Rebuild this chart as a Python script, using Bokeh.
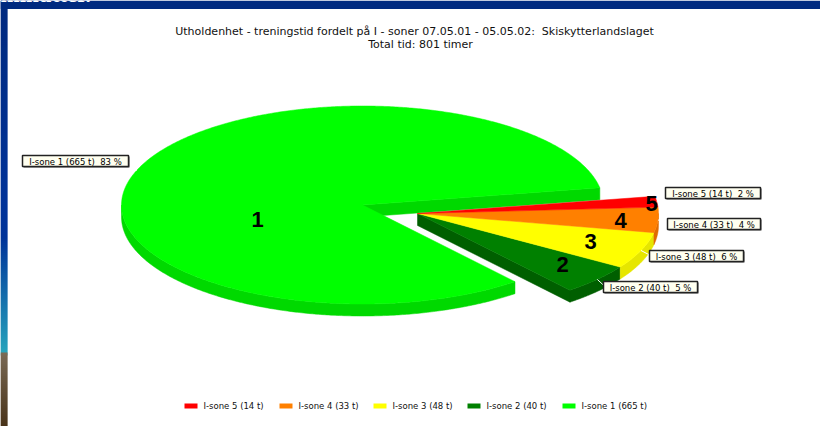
import numpy as np
from bokeh.plotting import figure
from bokeh.models import Range1d
from bokeh.core.properties import value
from bokeh.embed import file_html
from bokeh.resources import INLINE

# Training hours per intensity zone, in draw order around the pie
zones = ["I-sone 1", "I-sone 2", "I-sone 3", "I-sone 4", "I-sone 5"]
hours = [665, 40, 48, 33, 14]
percent = [83, 5, 6, 4, 2]
numbers = ["1", "2", "3", "4", "5"]
title_lines = ["Utholdenhet - treningstid fordelt på I - soner 07.05.01 - 05.05.02:\u00a0\u00a0Skiskytterlandslaget",
               "Total tid: 801 timer"]

top_colors = ["#00ff00", "#008000", "#ffff00", "#ff8000", "#ff0000"]
side_colors = ["#00d900", "#005f00", "#e6e600", "#e06c00", "#e00000"]

# Pie layout in page pixels
RX, RY, DEPTH = 241, 99, 12
CENTER = (362, 204.5)
EXPLODED = (417, 213)
START = 10

p = figure(width=820, height=426, output_backend="svg", toolbar_location=None,
           x_range=Range1d(0, 820), y_range=Range1d(426, 0),
           x_axis_type=None, y_axis_type=None, min_border=0,
           background_fill_color="white", border_fill_color="white")
p.grid.visible = False
p.outline_line_color = None


def rim(center, angles, drop=0):
    a = np.radians(angles)
    return center[0] + RX * np.cos(a), center[1] - RY * np.sin(a) + drop


def arc(a0, a1):
    return np.linspace(a0, a1, max(int(abs(a1 - a0) * 2), 2))


def wall(center, a0, a1, color):
    xs, ys = rim(center, arc(a0, a1))
    xb, yb = rim(center, arc(a1, a0), DEPTH)
    p.patch(np.r_[xs, xb], np.r_[ys, yb], fill_color=color, line_color=color, line_width=0.5)


def edge(center, angle, color):
    x, y = rim(center, np.array([angle]))
    p.patch([center[0], x[0], x[0], center[0]],
            [center[1], y[0], y[0] + DEPTH, center[1] + DEPTH],
            fill_color=color, line_color=color, line_width=0.5)


def face(center, a0, a1, color):
    xs, ys = rim(center, arc(a0, a1))
    p.patch(np.r_[center[0], xs], np.r_[center[1], ys], fill_color=color, line_color=color, line_width=0.5)


# Slide background behind the chart: dark top strip and left gradient band
band_stops = [(0, (0, 42, 127)), (200, (0, 51, 153)), (235, (0, 51, 153)),
              (352, (40, 165, 189))]
rows = np.arange(0, 354, 2)
band_colors = ["#%02x%02x%02x" % tuple(
    int(np.interp(y, [s[0] for s in band_stops], [s[1][c] for s in band_stops])) for c in range(3))
    for y in rows]
p.quad(left=0, right=7, top=rows, bottom=rows + 3, fill_color=band_colors, line_color=None)
brown = np.arange(352, 426, 2)
brown_colors = ["#%02x%02x%02x" % (int(np.interp(y, [352, 426], [122, 72])),
                                   int(np.interp(y, [352, 426], [106, 50])),
                                   int(np.interp(y, [352, 426], [85, 24]))) for y in brown]
p.quad(left=0, right=7, top=brown, bottom=brown + 3, fill_color=brown_colors, line_color=None)
p.quad(left=0, right=820, top=0, bottom=8.5, fill_color="#002a80", line_color=None)
p.text(x=[0], y=[-6], text=["minutter."], text_color="white", text_font=value("Liberation Serif"),
       text_font_style="bold", text_font_size="23px", text_baseline="alphabetic")

# Slice angles follow the hour totals, running counter-clockwise
total = sum(hours)
sweep = [360 * h / total for h in hours]
a = START
bounds = []
for s in sweep:
    bounds.append((a, a + s))
    a += s

# The large slice stays in place
a0, a1 = bounds[0]
edge(CENTER, a0, side_colors[0])
wall(CENTER, 180, a1, side_colors[0])
face(CENTER, a0, a1, top_colors[0])

# The remaining slices are pulled out as one block
edge(EXPLODED, bounds[1][0], side_colors[1])
for i in range(1, 5):
    b0, b1 = bounds[i]
    if b0 < 360:
        wall(EXPLODED, b0, min(b1, 360), side_colors[i])
for i in range(1, 5):
    face(EXPLODED, bounds[i][0], bounds[i][1], top_colors[i])

# Numbers written on the slices
num_x = [257, 562, 590, 620, 651]
num_y = [219, 264, 241, 220, 203]
p.text(x=num_x, y=num_y, text=numbers, text_color="black", text_font=value("Liberation Sans"),
       text_font_style="bold", text_font_size="22px", text_align="center", text_baseline="middle")

# Callout boxes with a drop shadow
box_left = [22, 603, 649, 667, 665]
box_top = [155, 281, 250, 218, 187]
box_w, box_h = [106, 94, 94, 93, 95], 11
for i in range(5):
    mid = (bounds[i][0] + bounds[i][1]) / 2
    c = CENTER if i == 0 else EXPLODED
    rx, ry = rim(c, np.array([mid]))
    p.line([rx[0], box_left[i] + 2], [ry[0], box_top[i] + box_h / 2], line_color="white", line_width=1)
    left, top, w = box_left[i], box_top[i], box_w[i]
    p.quad(left=left + 1, right=left + w + 1, top=top + 1, bottom=top + box_h + 1,
           fill_color="#444444", line_color=None)
    p.quad(left=left, right=left + w, top=top, bottom=top + box_h,
           fill_color="#fffff0", line_color="#222222", line_width=1.5)
    p.text(x=[left + w / 2], y=[top + box_h / 2 + 0.5],
           text=[f"{zones[i]} ({hours[i]} t)\u00a0\u00a0{percent[i]} %"], text_color="black",
           text_font=value("DejaVu Sans"), text_font_size="8.5px",
           text_align="center", text_baseline="middle")

# Chart title
p.text(x=[414, 420], y=[31, 44], text=title_lines, text_color="#111111",
       text_font=value("DejaVu Sans"), text_font_size="11px",
       text_align="center", text_baseline="middle")

# Legend along the bottom, highest zone first
leg_x = [184, 279, 373, 467, 562]
for i, x in enumerate(leg_x):
    z = 4 - i
    p.quad(left=x, right=x + 13, top=403, bottom=408, fill_color=top_colors[z], line_color=None)
    p.text(x=[x + 19], y=[405.5], text=[f"{zones[z]} ({hours[z]} t)"], text_color="#111111",
           text_font=value("DejaVu Sans"), text_font_size="8.5px", text_baseline="middle")

open("out.html", "w").write(file_html(p, INLINE))
